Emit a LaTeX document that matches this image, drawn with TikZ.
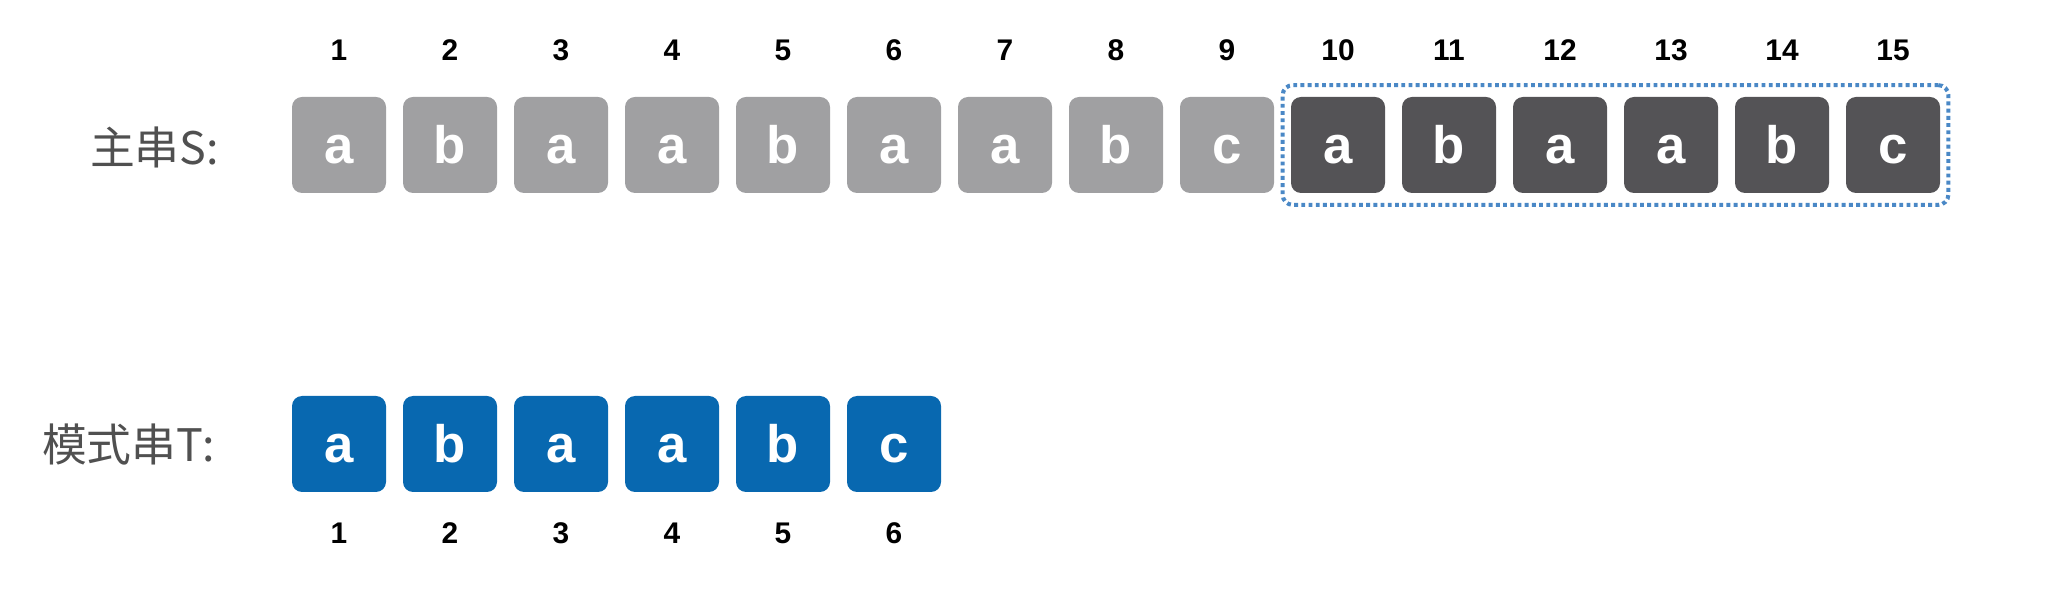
\documentclass[tikz,border=0pt]{standalone}
\usepackage{fontspec}
\setmainfont{Liberation Sans}
\newfontfamily\cjk{Noto Sans CJK SC}
\usetikzlibrary{fit}

\definecolor{sgray}{HTML}{A0A0A2}
\definecolor{sdark}{HTML}{545356}
\definecolor{tblue}{HTML}{0868B0}
\definecolor{dotblue}{HTML}{4A88C6}
\definecolor{labgray}{HTML}{505050}

\tikzset{
    cell/.style={rounded corners=0.2cm, minimum width=1.88cm, minimum height=1.92cm,
        inner sep=0pt, text height=21.5pt, text depth=0pt, text=white,
        font=\fontsize{30}{30}\selectfont\bfseries},
    idx/.style={font=\fontsize{17}{17}\selectfont\bfseries},
    lab/.style={anchor=east, text=labgray, font=\fontsize{25.5}{25.5}\selectfont\cjk}
}

\begin{document}
\begin{tikzpicture}
            \useasboundingbox (0, 0) rectangle (40.92, -11.96);

            \node[lab] (labS) at (4.5, -2.94) {主串S:};
            \node[lab] (labT) at (4.42, -8.9) {模式串T:};

            % main string S
            \foreach \c [count=\i] in {a,b,a,a,b,a,a,b,c,a,b,a,a,b,c} {
                \pgfmathsetmacro\x{6.78+2.22*(\i-1)}
                \ifnum\i<10 \def\col{sgray}\else \def\col{sdark}\fi
                \node[cell, fill=\col] (s\i) at (\x, -2.9) {\c};
                \node[idx] (si\i) at (\x, -1.0) {\i};
            }

            % pattern T
            \foreach \c [count=\i] in {a,b,a,a,b,c} {
                \pgfmathsetmacro\x{6.78+2.22*(\i-1)}
                \node[cell, fill=tblue] (t\i) at (\x, -8.88) {\c};
                \node[idx] (ti\i) at (\x, -10.66) {\i};
            }

            \node[fit=(s10)(s15), draw=dotblue, line width=2.3pt, dash pattern=on 2.2pt off 1.9pt,
                rounded corners=0.2cm, inner xsep=0.16cm, inner ysep=0.23cm] (win) {};
        \end{tikzpicture}
\end{document}
